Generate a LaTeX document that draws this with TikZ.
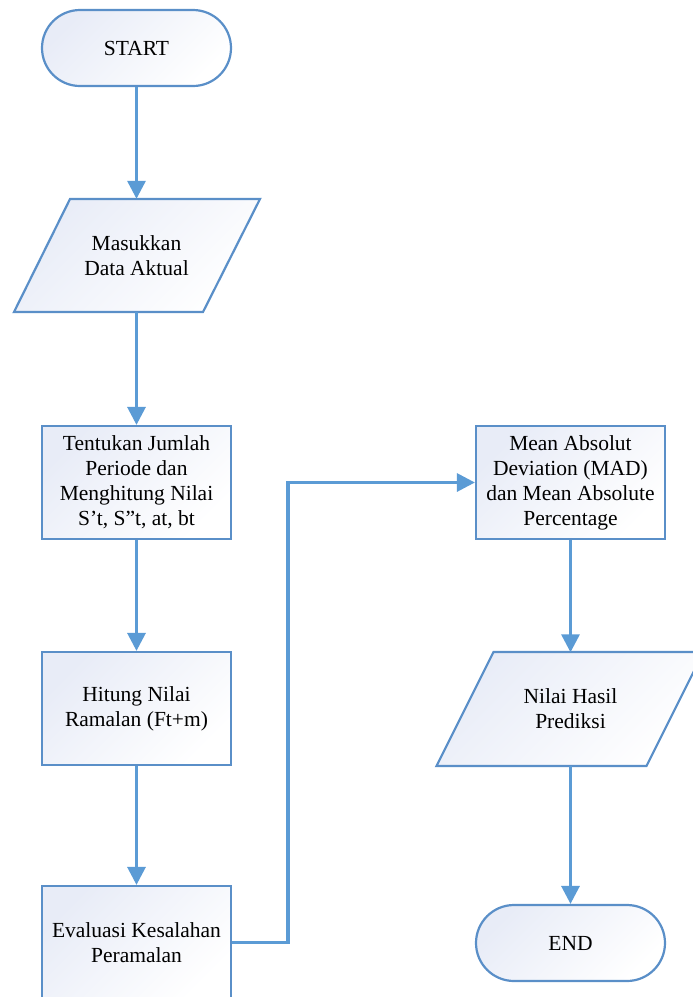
\documentclass[tikz,border=0pt]{standalone}
\usepackage{fontspec}
\setmainfont{Liberation Serif}
\usetikzlibrary{arrows.meta,calc}
\definecolor{linecol}{HTML}{5B9BD5}
\definecolor{bordercol}{HTML}{5A8FC8}
\definecolor{fillcol}{HTML}{E8ECF7}
\tikzset{
  txt/.style={align=center,font=\fontsize{21.5}{25}\selectfont,inner sep=0pt},
  shapefill/.style={draw=bordercol,line width=2.2pt,top color=fillcol,bottom color=white,shading angle=45},
  termbox/.style={shapefill,txt,minimum width=189pt,minimum height=76pt,rounded corners=38pt},
  procbox/.style={shapefill,txt,minimum width=189pt,minimum height=113pt},
  iobox/.style={txt,minimum width=120pt,minimum height=113pt},
  conn/.style={draw=linecol,line width=3.2pt,-{Triangle[width=18pt,length=18pt]}},
}
\begin{document}
\begin{tikzpicture}[x=1pt,y=-1pt]
\useasboundingbox (0,0) rectangle (693,997);
\clip (0,0) rectangle (693,997);
% parallelogram shapes
\path[shapefill] (70,199) -- (260,199) -- (203,312) -- (14,312) -- cycle;
\path[shapefill] (493.5,652) -- (703.5,652) -- (646.5,766) -- (436.5,766) -- cycle;
% nodes
\node[termbox] (start) at (136.5,48) {START};
\node[iobox] (in) at (136.5,255.5) {Masukkan\\Data Aktual};
\node[procbox] (p1) at (136.5,482.5) {Tentukan Jumlah\\Periode dan\\Menghitung Nilai\\S’t, S”t, at, bt};
\node[procbox] (p2) at (136.5,708.5) {Hitung Nilai\\Ramalan (Ft+m)};
\node[procbox] (p3) at (136.5,942.5) {Evaluasi Kesalahan\\Peramalan};
\node[procbox] (mad) at (570.5,482.5) {Mean Absolut\\Deviation (MAD)\\dan Mean Absolute\\Percentage};
\node[iobox] (out) at (570.5,709) {Nilai Hasil\\Prediksi};
\node[termbox] (end) at (570.5,943) {END};
\coordinate (bend) at (288,942.5);
% connectors
\draw[conn] (start.south) -- (in.north);
\draw[conn] (in.south) -- (p1.north);
\draw[conn] (p1.south) -- (p2.north);
\draw[conn] (p2.south) -- (p3.north);
\draw[conn] (p3.east) -- (bend) |- (mad.west);
\draw[conn] (mad.south) -- (out.north);
\draw[conn] (out.south) -- (end.north);
\end{tikzpicture}
\end{document}
